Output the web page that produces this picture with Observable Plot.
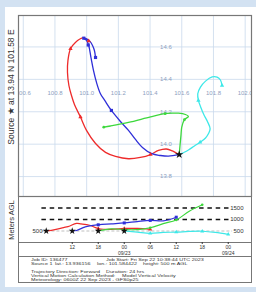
<!DOCTYPE html>
<html><head><meta charset="utf-8">
<script src="https://cdn.jsdelivr.net/npm/d3@7"></script>
<script src="https://cdn.jsdelivr.net/npm/@observablehq/plot@0.6"></script>
<style>
html,body{margin:0;padding:0;}
body{width:256px;height:292px;overflow:hidden;background:#d3e2f2;font-family:"Liberation Sans",Arial,sans-serif;}
#wrap{position:relative;width:256px;height:292px;}
#panel{position:absolute;left:5px;top:7px;width:251px;height:280px;background:#fff;}
.abs{position:absolute;left:0;top:0;}
.rot{position:absolute;transform:translate(-50%,-50%) rotate(-90deg);white-space:nowrap;color:#333;line-height:1;}
.info{position:absolute;font-size:4.3px;line-height:1;white-space:nowrap;color:#333;transform:translateY(-50%) scaleX(1.25);transform-origin:left center;}
.box{position:absolute;box-sizing:border-box;border:1px solid #777;border-top:none;}
</style></head><body><div id="wrap"><div id="panel"></div></div>
<script>
// ---- data ----
const lonTicks = [100.6, 100.8, 101.0, 101.2, 101.4, 101.6, 101.8, 102.0];
const latTicks = [13.8, 14.0, 14.2, 14.4, 14.6, 14.8];
const source = [101.584, 13.936];

const redPath = [[101.584,13.935],[101.541,13.958],[101.503,13.970],[101.453,13.961],[101.403,13.936],[101.339,13.918],[101.264,13.910],[101.182,13.924],[101.119,13.949],[101.056,14.004],[100.999,14.085],[100.961,14.167],[100.923,14.245],[100.904,14.301],[100.888,14.362],[100.879,14.443],[100.882,14.517],[100.898,14.589],[100.929,14.628],[100.974,14.656],[100.999,14.649],[101.013,14.636]];
const bluePath = [[101.584,13.935],[101.516,13.926],[101.466,13.930],[101.411,13.941],[101.352,13.980],[101.308,14.029],[101.264,14.085],[101.213,14.140],[101.156,14.208],[101.114,14.270],[101.087,14.311],[101.062,14.381],[101.043,14.455],[101.027,14.535],[101.013,14.609],[100.999,14.640],[100.982,14.654],[101.002,14.649],[101.021,14.634],[101.037,14.609],[101.049,14.578],[101.056,14.535]];
const greenPath = [[101.584,13.935],[101.589,13.992],[101.595,14.054],[101.600,14.105],[101.617,14.151],[101.642,14.171],[101.623,14.183],[101.579,14.191],[101.529,14.191],[101.495,14.188],[101.403,14.168],[101.264,14.134],[101.150,14.112],[101.108,14.105]];
const cyanPath = [[101.584,13.935],[101.642,13.964],[101.680,13.989],[101.716,14.012],[101.750,14.038],[101.768,14.064],[101.779,14.095],[101.762,14.140],[101.739,14.183],[101.718,14.233],[101.705,14.270],[101.701,14.311],[101.718,14.352],[101.750,14.389],[101.792,14.415],[101.823,14.414],[101.844,14.396],[101.854,14.362]];

const redMarks = [[101.403,13.936],[100.961,14.167],[100.898,14.589],[101.013,14.636]];
const blueMarks = [[101.156,14.208],[101.010,14.612],[100.982,14.654],[101.056,14.535]];
const greenMarks = [[101.617,14.151],[101.495,14.188],[101.108,14.105]];
const cyanMarks = [[101.716,14.012],[101.705,14.270],[101.854,14.362]];

const redStart = "2023-09-22T06:00:00Z";
const redHours = [0,2,4,5,7,8,10,12,15,18,21,24];
const redHeights = [500,560,650,690,830,810,750,610,570,610,610,570];
const blueStart = "2023-09-22T12:00:00Z";
const blueHours = [0,1,3,6,9,12,15,18,21,24];
const blueHeights = [500,520,680,770,810,850,910,960,940,1100];
const greenStart = "2023-09-22T18:00:00Z";
const greenHours = [0,3,6,9,12,15,18,21,24];
const greenHeights = [500,590,560,560,640,820,980,1360,1640];
const cyanStart = "2023-09-23T00:00:00Z";
const cyanHours = [0,3,6,9,12,15,18,21,24];
const cyanHeights = [500,450,400,440,450,480,490,440,350];

const levelLabels = [500, 1000, 1500];
const timeTicks = ["2023-09-22T12:00:00Z","2023-09-22T18:00:00Z","2023-09-23T00:00:00Z","2023-09-23T06:00:00Z","2023-09-23T12:00:00Z","2023-09-23T18:00:00Z","2023-09-24T00:00:00Z"];
const dateTicks = [["2023-09-23T00:00:00Z","09/23"],["2023-09-24T00:00:00Z","09/24"]];

const colors = {red:"#ee2b2b", blue:"#2f2fd8", green:"#3cd83c", cyan:"#3ee8e8"};
const font = "'Liberation Sans', Arial, sans-serif";

// ---- map ----
const P = d => d[0], Q = d => d[1];
const lonLabelLat = 14.315, latLabelLon = 101.5;
const map = Plot.plot({
  width: 256, height: 196,
  marginLeft: 18, marginRight: 5, marginTop: 15, marginBottom: 0,
  x: {type: "linear", domain: [100.570, 102.040], axis: null},
  y: {type: "linear", domain: [13.677, 14.794], axis: null},
  style: {background: "transparent", fontFamily: font, overflow: "visible"},
  marks: [
    Plot.ruleX(lonTicks, {stroke: "#c9d9ec", strokeWidth: 0.8}),
    Plot.ruleY(latTicks, {stroke: "#c9d9ec", strokeWidth: 0.8, clip: true}),
    Plot.text(lonTicks, {x: d => d, y: () => lonLabelLat, text: d => d.toFixed(1), fill: "#8ea0c0", fontSize: 6, clip: true}),
    Plot.text(latTicks, {x: () => latLabelLon, y: d => d, text: d => d.toFixed(1), fill: "#8ea0c0", fontSize: 6, clip: true}),
    Plot.line(redPath, {x: P, y: Q, stroke: colors.red, strokeWidth: 1.3, curve: "catmull-rom"}),
    Plot.line(bluePath, {x: P, y: Q, stroke: colors.blue, strokeWidth: 1.3, curve: "catmull-rom"}),
    Plot.line(greenPath, {x: P, y: Q, stroke: colors.green, strokeWidth: 1.3, curve: "catmull-rom"}),
    Plot.line(cyanPath, {x: P, y: Q, stroke: colors.cyan, strokeWidth: 1.3, curve: "catmull-rom"}),
    Plot.dot(redMarks, {x: P, y: Q, symbol: "triangle", fill: colors.red, r: 1.6}),
    Plot.dot(blueMarks, {x: P, y: Q, symbol: "square", fill: colors.blue, r: 1.8}),
    Plot.dot(greenMarks, {x: P, y: Q, symbol: "circle", fill: colors.green, r: 1.4}),
    Plot.dot(cyanMarks, {x: P, y: Q, symbol: "triangle", fill: colors.cyan, r: 1.6}),
    Plot.dot([source], {x: P, y: Q, symbol: "star", fill: "#111", r: 2.6}),
    Plot.frame({stroke: "#777", strokeWidth: 1.2})
  ]
});
map.classList.add("abs");
map.style.left = "0px"; map.style.top = "0px";

// ---- vertical profile ----
function series(start, hours, heights) {
  const t0 = new Date(start);
  return hours.map((h, i) => ({t: new Date(+t0 + h * 3600e3), h: heights[i], k: h}));
}
const redS = series(redStart, redHours, redHeights);
const blueS = series(blueStart, blueHours, blueHeights);
const greenS = series(greenStart, greenHours, greenHeights);
const cyanS = series(cyanStart, cyanHours, cyanHeights);
const six = s => s.filter(d => d.k > 0 && d.k % 6 === 0);
const starts = [redS[0], blueS[0], greenS[0], cyanS[0]];
const dashStart = new Date("2023-09-22T05:00:00Z"), dashEnd = new Date("2023-09-24T01:00:00Z");

const prof = Plot.plot({
  width: 256, height: 61,
  marginLeft: 18, marginRight: 5, marginTop: 0, marginBottom: 15,
  x: {type: "utc", domain: [new Date("2023-09-21T23:36:00Z"), new Date("2023-09-24T05:22:00Z")], axis: null, label: null},
  y: {type: "linear", domain: [0, 2000], axis: null, label: null},
  style: {background: "transparent", fontFamily: font, overflow: "visible"},
  marks: [
    Plot.ruleY([500], {x1: () => dashStart, x2: () => dashEnd, stroke: "#b8b8b8", strokeWidth: 0.9, strokeDasharray: "3,2"}),
    Plot.ruleY([1000, 1500], {x1: () => dashStart, x2: () => dashEnd, stroke: "#111", strokeWidth: 1.7, strokeDasharray: "4.5,3.8"}),
    Plot.line(redS, {x: "t", y: "h", stroke: colors.red, strokeWidth: 1.2, curve: "catmull-rom"}),
    Plot.line(blueS, {x: "t", y: "h", stroke: colors.blue, strokeWidth: 1.2, curve: "catmull-rom"}),
    Plot.line(greenS, {x: "t", y: "h", stroke: colors.green, strokeWidth: 1.2, curve: "catmull-rom"}),
    Plot.line(cyanS, {x: "t", y: "h", stroke: colors.cyan, strokeWidth: 1.2, curve: "catmull-rom"}),
    Plot.dot(six(redS), {x: "t", y: "h", symbol: "triangle", fill: colors.red, r: 1.5}),
    Plot.dot(six(blueS), {x: "t", y: "h", symbol: "square", fill: colors.blue, r: 1.7}),
    Plot.dot(six(greenS), {x: "t", y: "h", symbol: "circle", fill: colors.green, r: 1.3}),
    Plot.dot(six(cyanS), {x: "t", y: "h", symbol: "triangle", fill: colors.cyan, r: 1.5}),
    Plot.dot(starts, {x: "t", y: "h", symbol: "star", fill: "#111", r: 2.2}),
    Plot.text(levelLabels, {y: d => d, text: d => String(d), frameAnchor: "right", dx: -8, fontSize: 6, fill: "#333"}),
    Plot.text([500], {y: d => d, text: d => String(d), frameAnchor: "left", dx: 14, fontSize: 6, fill: "#333"}),
    Plot.frame({stroke: "#777", strokeWidth: 1}),
    Plot.axisX(timeTicks.map(d => new Date(d)), {label: null, tickFormat: d3.utcFormat("%H"), tickSize: 2, tickPadding: 1, fontSize: 5, fill: "#333", stroke: "#333"}),
    Plot.text(dateTicks, {x: d => new Date(d[0]), text: d => d[1], frameAnchor: "bottom", dy: 12, fontSize: 5, fill: "#333"})
  ]
});
prof.classList.add("abs");
prof.style.left = "0px"; prof.style.top = "196px";

const wrap = document.getElementById("wrap");
wrap.appendChild(map);
wrap.appendChild(prof);

// boxes below the profile
function div(cls, css, text) {
  const e = document.createElement("div");
  e.className = cls; e.style.cssText = css;
  if (text != null) e.textContent = text;
  wrap.appendChild(e); return e;
}
div("box", "left:17.5px;top:242px;width:234px;height:15px;");
div("box", "left:17.5px;top:257px;width:234px;height:26px;");

// rotated side labels
div("rot", "left:11px;top:86.5px;font-size:8.5px;", "Source \u2605 at 13.94 N 101.58 E");
div("rot", "left:11.5px;top:220px;font-size:7.5px;", "Meters AGL");

// info text
const info = [
  [30.7, 260, "Job ID: 136477"],
  [106, 260, "Job Start: Fri Sep 22 10:38:44 UTC 2023"],
  [30.7, 264, "Source 1"],
  [55, 264, "lat.: 13.936156"],
  [97, 264, "lon.: 101.584422"],
  [143, 264, "height: 500 m AGL"],
  [30.7, 272.3, "Trajectory Direction: Forward"],
  [106, 272.3, "Duration: 24 hrs"],
  [30.7, 276, "Vertical Motion Calculation Method:"],
  [122, 276, "Model Vertical Velocity"],
  [30.7, 279.6, "Meteorology: 0600Z 22 Sep 2023 - GFS0p25"]
];
info.forEach(([x, y, t]) => div("info", `left:${x}px;top:${y}px;`, t));
</script></body></html>
